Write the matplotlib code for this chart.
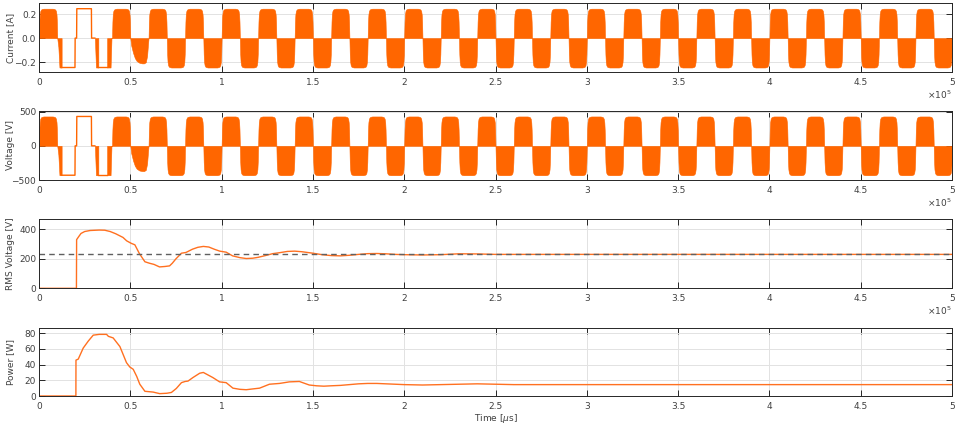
import numpy as np
import matplotlib
matplotlib.use("Agg")
import matplotlib.pyplot as plt

# time axis in microseconds, one half cycle of the 50 Hz drive = 10000 us
half_period = 10000
n_half = 50
orange = "#FF6600"

# shape of one steady PWM lobe (fraction of half cycle -> fraction of peak)
lobe_frac = [0, 0.02, 0.04, 0.07, 0.11, 0.17, 0.25, 0.75, 0.83, 0.89, 0.93, 0.96, 0.98, 1.0]
lobe_level = [0, 0.55, 0.8, 0.92, 0.97, 0.99, 1.0, 1.0, 0.99, 0.97, 0.92, 0.8, 0.55, 0]

# sagging negative lobe right after the start-up transient (half cycle 5)
dip_frac = [0, 0.05, 0.15, 0.25, 0.35, 0.5, 0.65, 0.75, 0.85, 0.92, 0.97, 1.0]
dip_level = [0, -0.25, -0.5, -0.68, -0.78, -0.84, -0.86, -0.86, -0.82, -0.6, -0.2, 0]

# start-up transient (half cycles 1..3): saturated drive, (t [us], level, switching?)
trans_segments = [
    ([10000, 10600, 11200, 12400], [0, -0.3, -1, -1], True),
    ([12400, 19700, 19800, 20600, 20700, 28700, 28800, 30600],
     [-1, -1, 0, 0, 1, 1, 0, 0], False),
    ([30600, 31200, 32500], [0, -1, -1], True),
    ([32500, 37300], [-1, -1], False),
    ([37300, 39200, 39700, 40000], [-1, -1, 0, 0], True),
]
special_half = {1, 2, 3, 5}

current_peak = 0.245   # A
voltage_peak = 430     # V

# RMS voltage (t [us], V)
rms_t = [0, 20500, 20600, 22000, 23000, 25000, 28000, 33000, 36000, 39000, 42000,
         46000, 48000, 50500, 52500, 55000, 58000, 60500, 63000, 66000, 69000,
         71500, 73000, 75000, 78000, 80500, 84000, 87000, 90000, 93000, 96000,
         99000, 102500, 106000, 110000, 113500, 117000, 120000, 124000, 128000,
         132000, 136000, 140000, 144000, 150000, 155000, 160000, 165000, 170000,
         175000, 180000, 185000, 190000, 195000, 200000, 210000, 220000, 230000,
         240000, 250000, 270000, 300000, 500000]
rms_v = [0, 0, 330, 355, 372, 385, 392, 395, 394, 385, 370,
         345, 322, 305, 295, 235, 180, 170, 162, 145, 148,
         152, 170, 200, 238, 243, 265, 278, 284, 280, 265,
         252, 245, 220, 208, 202, 204, 210, 222, 235,
         242, 250, 252, 248, 238, 228, 222, 220, 224,
         230, 235, 236, 234, 230, 228, 226, 228, 234,
         233, 230, 230, 230, 230]
rms_ref = 230

# power (t [us], W)
pw_t = [0, 20200, 20250, 21500, 24200, 27000, 29700, 33000, 37000, 38000, 40600,
        44300, 47900, 49700, 51600, 53500, 55200, 58000, 62500, 66100, 70000,
        72500, 75200, 78000, 80000, 81600, 84300, 88000, 90000, 91600, 95200,
        98900, 102500, 106200, 110000, 113500, 117000, 120800, 126200, 131700,
        137100, 142600, 148000, 152000, 156000, 160000, 165000, 170000, 175000,
        180000, 185000, 190000, 195000, 200000, 210000, 220000, 230000, 240000,
        250000, 260000, 280000, 300000, 500000]
pw_w = [0, 0, 45.7, 47, 61, 70, 77.5, 78.5, 78.5, 76, 74,
        63, 42.5, 37, 34, 25, 15, 6, 5, 3, 3.5,
        4.5, 9.6, 17, 18.5, 19, 23.5, 29, 30, 28, 23.5,
        18, 17, 10, 8.5, 8, 9, 10, 15, 16,
        18, 18.5, 14, 13, 12.5, 13, 13.5, 14.5, 15.5,
        16, 16, 15.5, 15, 14.5, 14, 14.5, 15, 15.5,
        15, 14.5, 14.5, 14.5, 14.5]

xticks = np.arange(0, 5.01, 0.5) * 1e5
xticklabels = ["0", "0.5", "1", "1.5", "2", "2.5", "3", "3.5", "4", "4.5", "5"]


def draw_pwm(ax, peak):
    for k in range(n_half):
        if k in special_half:
            continue
        sign = 1 if k % 2 == 0 else -1
        t = (k + np.array(lobe_frac)) * half_period
        ax.fill_between(t, 0, sign * peak * np.array(lobe_level),
                        color=orange, lw=0.4, edgecolor=orange)
    t = (5 + np.array(dip_frac)) * half_period
    ax.fill_between(t, 0, peak * np.array(dip_level), color=orange, lw=0.4,
                    edgecolor=orange)
    for seg_t, seg_v, switching in trans_segments:
        v = peak * np.array(seg_v)
        if switching:
            ax.fill_between(seg_t, 0, v, color=orange, lw=0.4, edgecolor=orange)
        else:
            ax.plot(seg_t, v, color=orange, lw=1.0)


def style(ax, ylabel, yticks, ylim, sci=True):
    ax.set_xlim(0, 5e5)
    ax.set_ylim(*ylim)
    ax.set_xticks(xticks)
    ax.set_xticklabels(xticklabels)
    ax.set_yticks(yticks)
    ax.set_ylabel(ylabel, fontsize=6.5, color="#404040")
    ax.yaxis.set_label_coords(-0.026, 0.5)
    ax.grid(True, color="#e2e2e2", lw=0.7)
    ax.set_axisbelow(True)
    ax.tick_params(direction="in", top=True, right=True, length=4, width=0.7,
                   labelsize=6.5, colors="#262626", labelcolor="#404040")
    ax.tick_params(axis="y", pad=2)
    ax.tick_params(axis="x", pad=4)
    for s in ax.spines.values():
        s.set_color("#262626")
        s.set_linewidth(0.7)
    if sci:
        ax.text(1.0, -0.33, r"$\times10^5$", transform=ax.transAxes,
                ha="right", va="center", fontsize=6.5, color="#404040")


fig = plt.figure(figsize=(9.55, 4.25), dpi=100)
left, width = 39 / 955, 913 / 955
ax1 = fig.add_axes([left, 1 - 72.3 / 425, width, 69 / 425])
ax2 = fig.add_axes([left, 1 - 180 / 425, width, 69 / 425])
ax3 = fig.add_axes([left, 1 - 288.3 / 425, width, 69.3 / 425])
ax4 = fig.add_axes([left, 1 - 396 / 425, width, 68.3 / 425])

draw_pwm(ax1, current_peak)
style(ax1, "Current [A]", [-0.2, 0, 0.2], (-0.285, 0.29))

draw_pwm(ax2, voltage_peak)
style(ax2, "Voltage [V]", [-500, 0, 500], (-500, 510))

ax3.plot(rms_t, rms_v, color="#FF7020", lw=1.0)
ax3.axhline(rms_ref, color="#606060", ls="--", lw=1.0, dashes=(4, 3))
style(ax3, "RMS Voltage [V]", [0, 200, 400], (0, 470))

ax4.plot(pw_t, pw_w, color="#FF7020", lw=1.0)
style(ax4, "Power [W]", [0, 20, 40, 60, 80], (0, 87), sci=False)
ax4.set_xlabel(r"Time [$\mu$s]", fontsize=6.5, color="#404040", labelpad=1)

fig.savefig("out.png", dpi=100)
